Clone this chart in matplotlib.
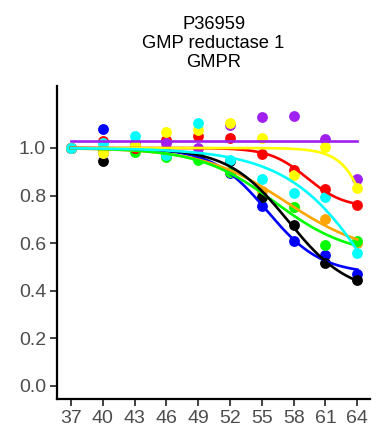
import numpy as np
import matplotlib
matplotlib.use('agg')
import matplotlib.pyplot as plt

plt.rcParams["font.family"] = ["Liberation Sans", "DejaVu Sans"]

# temperatures and relative soluble fraction for each replicate (by colour)
temps = [37, 40, 43, 46, 49, 52, 55, 58, 61, 64]
blue = [1.0, 1.078, 1.0, 0.98, 0.97, 0.895, 0.756, 0.61, 0.55, 0.471]
orange = [1.0, 0.99, 1.013, 0.97, 0.97, 0.90, 0.82, 0.75, 0.70, 0.60]
green = [1.0, 1.0, 0.985, 0.96, 0.95, 0.90, 0.795, 0.753, 0.592, 0.61]
black = [1.0, 0.947, 1.0, 0.98, 0.97, 0.945, 0.795, 0.676, 0.518, 0.445]
red = [1.0, 1.03, 1.0, 1.034, 1.052, 1.043, 0.974, 0.908, 0.826, 0.76]
purple = [1.0, 0.98, 1.02, 1.02, 0.999, 1.097, 1.129, 1.136, 1.037, 0.868]
yellow = [1.0, 0.98, 1.013, 1.066, 1.076, 1.106, 1.04, 0.887, 1.003, 0.83]
cyan = [1.0, 1.02, 1.05, 0.97, 1.104, 0.95, 0.868, 0.81, 0.795, 0.557]

series = [("#0000FF", blue), ("#FFA500", orange), ("#00FF00", green),
          ("black", black), ("#FF0000", red), ("#A020F0", purple),
          ("#FFFF00", yellow), ("#00FFFF", cyan)]
no_fit = ["#A020F0"]  # melt curve fit failed -> drawn as mean


def fit_sigmoid(t, y):
    # top fixed at 1: y = bot + (1-bot)*f, f = 1/(1+exp((t-tm)/s))
    t = np.asarray(t, float)
    y = np.asarray(y, float)
    tm = np.arange(40, 95, 0.25)[:, None, None]
    s = np.arange(1.5, 15, 0.05)[None, :, None]
    f = 1 / (1 + np.exp((t - tm) / s))
    g = 1 - f
    bot = (g * (y - f)).sum(-1) / (g * g).sum(-1)
    err = ((bot[..., None] * g + f - y) ** 2).sum(-1)
    i, j = np.unravel_index(np.nanargmin(err), err.shape)
    return tm[i, 0, 0], s[0, j, 0], bot[i, j]


fig = plt.figure(figsize=(3.76, 4.37), dpi=100)
ax = fig.add_axes([0.152, 0.087, 0.832, 0.716])

for col, vals in series:
    ax.plot(temps, vals, "o", color=col, markersize=7.8, markeredgewidth=0, zorder=2)

tt = np.linspace(temps[0], temps[-1], 300)
for col, vals in series:
    if col in no_fit:
        yy = np.full_like(tt, np.mean(vals))
    else:
        tm, s, bot = fit_sigmoid(temps, vals)
        f = 1 / (1 + np.exp((tt - tm) / s))
        yy = bot + (1 - bot) * f
    ax.plot(tt, yy, color=col, lw=1.9, zorder=3)

ax.set_xlim(35.7, 65.2)
ax.set_ylim(-0.055, 1.26)
ax.set_xticks(temps)
ax.set_yticks([0.0, 0.2, 0.4, 0.6, 0.8, 1.0])
ax.set_yticklabels(["0.0", "0.2", "0.4", "0.6", "0.8", "1.0"])
ax.tick_params(labelsize=14, labelcolor="#4D4D4D", color="#333333",
               length=5, width=1.3, pad=3)
for side in ["top", "right"]:
    ax.spines[side].set_visible(False)
for side in ["left", "bottom"]:
    ax.spines[side].set_linewidth(1.6)

ax.set_title("P36959\nGMP reductase 1\nGMPR", fontsize=13.2, linespacing=1.15, pad=14)

fig.savefig("out.png", dpi=100)
